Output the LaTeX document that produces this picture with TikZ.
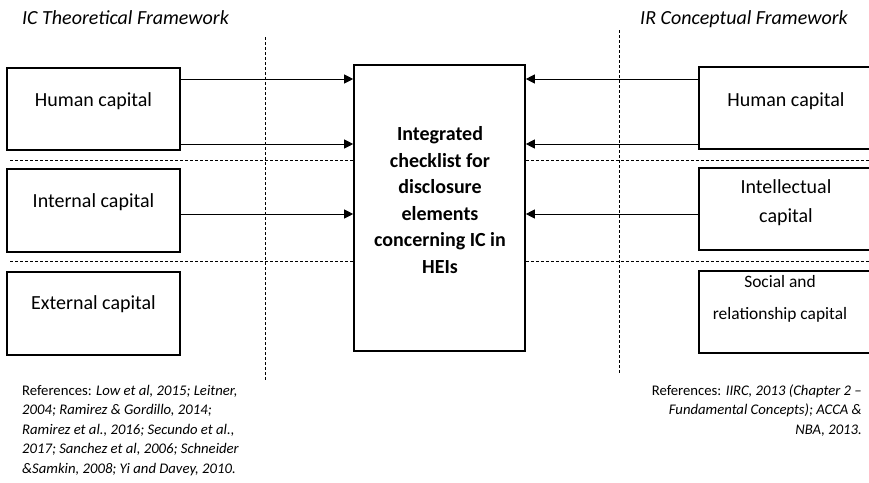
\documentclass[tikz,border=0pt]{standalone}
\usepackage{fontspec}
\setmainfont{Carlito}
\usetikzlibrary{arrows.meta}
\begin{document}
\begin{tikzpicture}[x=1pt,y=-1pt,
  box/.style={draw, line width=1.6pt, minimum width=173pt, inner sep=0pt},
  lbl/.style={font=\fontsize{20}{24}\selectfont, align=center, inner sep=0pt},
  arr/.style={line width=0.9pt, -{Triangle[length=9pt,width=9pt]}},
  sep/.style={line width=0.8pt, dash pattern=on 3pt off 2pt},
  ref/.style={inner sep=0pt, font=\fontsize{14.7}{19.5}\selectfont},
  ttl/.style={anchor=base west, inner sep=0pt, font=\fontsize{20}{24}\selectfont\itshape}]
\clip (0,0) rectangle (869,482);

% boxes
\node[box, minimum height=82pt] (lh) at (93.5,109) {};
\node[box, minimum height=83pt] (li) at (93.5,210.5) {};
\node[box, minimum height=83pt] (le) at (93.5,313.5) {};
\node[box, minimum width=171pt, minimum height=286pt] (cb) at (439.5,208) {};
\node[box, minimum height=82pt] (rh) at (785.5,108) {};
\node[box, minimum height=82pt] (ri) at (785.5,209) {};
\node[box, minimum height=82pt] (rs) at (785.5,312) {};

% dashed separators
\coordinate (v1t) at (265,37);
\coordinate (v1b) at (265,380);
\coordinate (v2t) at (619,30);
\coordinate (v2b) at (619,373);
\coordinate (h1l) at (10,160);
\coordinate (h1r) at (869,160);
\coordinate (h2l) at (10,261);
\coordinate (h2r) at (869,261);
\draw[sep] (v1t) -- (v1b);
\draw[sep] (v2t) -- (v2b);
\draw[sep] (h1l) -- (cb.west |- h1l);
\draw[sep] (cb.east |- h1r) -- (h1r);
\draw[sep] (h2l) -- (cb.west |- h2l);
\draw[sep] (cb.east |- h2r) -- (h2r);

% arrows
\coordinate (a1) at (0,79);
\coordinate (a2) at (0,144);
\coordinate (a3) at (0,214);
\draw[arr] (lh.east |- a1) -- (cb.west |- a1);
\draw[arr] (lh.east |- a2) -- (cb.west |- a2);
\draw[arr] (li.east |- a3) -- (cb.west |- a3);
\draw[arr] (rh.west |- a1) -- (cb.east |- a1);
\draw[arr] (rh.west |- a2) -- (cb.east |- a2);
\draw[arr] (ri.west |- a3) -- (cb.east |- a3);

% labels
\node[lbl] (tlh) at (93.5,101.3) {Human capital};
\node[lbl] (tli) at (93.5,202.3) {Internal capital};
\node[lbl] (tle) at (93.5,304) {External capital};
\node[lbl, font=\fontsize{20}{26.6}\selectfont\bfseries] (tcb) at (440,200)
  {Integrated\\checklist for\\disclosure\\elements\\concerning IC in\\HEIs};
\node[lbl] (trh) at (786,101.3) {Human capital};
\node[lbl, font=\fontsize{20}{29}\selectfont] (tri) at (786,202.7) {Intellectual\\capital};
\node[lbl, font=\fontsize{17.4}{32}\selectfont] (trs) at (780,299.2) {Social and\\relationship capital};

% titles
\node[ttl] (t1) at (22,24) {IC Theoretical Framework};
\node[ttl] (t2) at (640,24) {IR Conceptual Framework};

% references
\node[ref, anchor=base west] (r1) at (22,395.4) {\begin{tabular}[t]{@{}l@{}}
References: \textit{Low et al, 2015; Leitner,}\\
\textit{2004; Ramirez \& Gordillo, 2014;}\\
\textit{Ramirez et al., 2016; Secundo et al.,}\\
\textit{2017; Sanchez et al, 2006; Schneider}\\
\textit{\&Samkin, 2008; Yi and Davey, 2010.}
\end{tabular}};
\node[ref, anchor=base east] (r2) at (862,395.4) {\begin{tabular}[t]{@{}r@{}}
References: \textit{IIRC, 2013 (Chapter 2 –}\\
\textit{Fundamental Concepts); ACCA \&}\\
\textit{NBA, 2013.}
\end{tabular}};
\end{tikzpicture}
\end{document}
